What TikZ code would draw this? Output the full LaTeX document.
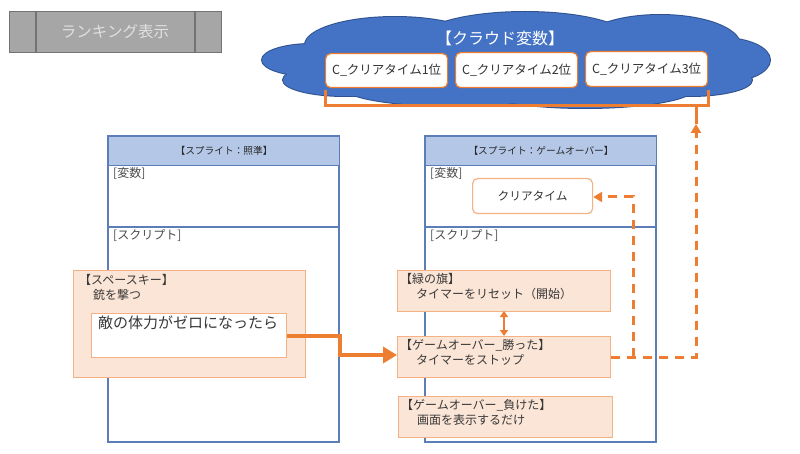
\documentclass[tikz,border=0pt]{standalone}
\usepackage{fontspec}
\setmainfont{Noto Sans CJK JP}
\usetikzlibrary{arrows.meta}
\definecolor{orng}{HTML}{ED7D31}
\definecolor{lorng}{HTML}{F4B183}
\definecolor{peach}{HTML}{FBE5D6}
\definecolor{cblue}{HTML}{4472C4}
\definecolor{dblue}{HTML}{2F528F}
\definecolor{hblue}{HTML}{B4C7E7}
\definecolor{fblue}{HTML}{5B7DB8}
\tikzset{
  fs/.style={font=\fontsize{#1}{#1}\selectfont},
  evtxt/.style={anchor=north west, inner sep=0pt, align=left, text=black!78, font=\fontsize{12}{15}\selectfont},
  frame/.style={draw=fblue, line width=1.1pt},
  hdr/.style={draw=fblue, fill=hblue, line width=1.1pt},
  evbox/.style={draw=lorng, fill=peach, line width=1.3pt},
  varbox/.style={draw=orng, fill=white, rounded corners=5pt, line width=1.2pt},
  lbl/.style={anchor=north west, inner sep=0pt, text=black!70, fs=12},
  dasharrow/.style={draw=orng, line width=3pt, dash pattern=on 9pt off 7pt},
}
\begin{document}
\begin{tikzpicture}[x=1pt,y=-1pt]
\useasboundingbox (0,0) rectangle (800,454);
% ranking button
\node[draw=gray!90!black, fill=black!35, line width=1.2pt, minimum width=212pt, minimum height=41pt, inner sep=0pt, anchor=north west] (rank) at (9,11) {};
\draw[gray!90!black, line width=1.2pt] (36,11) -- (36,52) (195,11) -- (195,52);
\node[text=black!12, fs=15.5] (ranktxt) at (115,32) {ランキング表示};
% cloud
\def\cloudshapes{
  \path (395,45) ellipse (90 and 28);
  \path (525,40) ellipse (105 and 28);
  \path (660,45) ellipse (80 and 30);
  \path (722,60) ellipse (48 and 22);
  \path (312,60) ellipse (50 and 16);
  \path (345,80) ellipse (62 and 16);
  \path (455,88) ellipse (110 and 18);
  \path (585,88) ellipse (110 and 20);
  \path (690,80) ellipse (62 and 16);
  \path (520,62) ellipse (230 and 32);
}
\begin{scope}[every path/.style={draw=dblue, line width=2pt}]
\cloudshapes
\end{scope}
\begin{scope}[every path/.style={fill=cblue}]
\cloudshapes
\end{scope}
\node[text=white, fs=16] (cloudtitle) at (500,38) {【クラウド変数】};
\node[varbox, minimum width=122pt, minimum height=34pt, inner sep=0pt, anchor=north west, fs=12.5, text=black!80] (c1) at (325,53) {C\_クリアタイム1位};
\node[varbox, minimum width=122pt, minimum height=35pt, inner sep=0pt, anchor=north west, fs=12.5, text=black!80] (c2) at (455,52) {C\_クリアタイム2位};
\node[varbox, minimum width=122pt, minimum height=35pt, inner sep=0pt, anchor=north west, fs=12.5, text=black!80] (c3) at (585,51) {C\_クリアタイム3位};
% bracket
\coordinate (bl) at (325,90);
\coordinate (br) at (708,90);
\coordinate (bstem) at (696,106);
\coordinate (btip) at (696,124);
\draw[orng, line width=3pt] (bl) -- (325,106) -- (708,106) -- (br);
\draw[orng, line width=3pt] (bstem) -- (btip);
% left sprite frame
\draw[frame] (108,136) rectangle (339,442);
\node[hdr, minimum width=231pt, minimum height=29pt, inner sep=0pt, anchor=north west, fs=9.7, text=black!85] (lhdr) at (108,136) {【スプライト：照準】};
\draw[frame] (108,227) -- (339,227);
\node[lbl] (lvar) at (113,167) {[変数]};
\node[lbl] (lscr) at (113,229) {[スクリプト]};
% right sprite frame
\draw[frame] (425,136) rectangle (656,442);
\node[hdr, minimum width=231pt, minimum height=29pt, inner sep=0pt, anchor=north west, fs=9.7, text=black!85] (rhdr) at (425,136) {【スプライト：ゲームオーバー】};
\draw[frame] (425,227) -- (656,227);
\node[lbl] (rvar) at (430,167) {[変数]};
\node[lbl] (rscr) at (430,229) {[スクリプト]};
\node[varbox, draw=lorng, minimum width=120pt, minimum height=35pt, inner sep=0pt, anchor=north west, fs=11.7, text=black!80] (ct) at (472,178) {クリアタイム};
% space key box
\node[evbox, minimum width=232pt, minimum height=107pt, inner sep=0pt, anchor=north west] (space) at (73,270) {};
\node[evtxt] (spacetxt) at (79,274) {【スペースキー】\\\hspace*{14pt}銃を撃つ};
\node[draw=lorng, fill=white, line width=1.3pt, minimum width=195pt, minimum height=44pt, inner sep=0pt, anchor=north west] (enemy) at (91,313) {};
\node[anchor=north west, inner sep=0pt, fs=15, text=black!78] (enemytxt) at (98,316) {敵の体力がゼロになったら};
% right event boxes
\node[evbox, minimum width=213pt, minimum height=41pt, inner sep=0pt, anchor=north west] (flag) at (397,270) {};
\node[evtxt] (flagtxt) at (400,273) {【緑の旗】\\\hspace*{16pt}タイマーをリセット（開始）};
\node[evbox, minimum width=213pt, minimum height=41pt, inner sep=0pt, anchor=north west] (stop) at (397,336) {};
\node[evtxt] (stoptxt) at (400,339) {【ゲームオーバー\_勝った】\\\hspace*{16pt}タイマーをストップ};
\node[evbox, minimum width=214pt, minimum height=41pt, inner sep=0pt, anchor=north west] (lose) at (398,396) {};
\node[evtxt] (losetxt) at (401,399) {【ゲームオーバー\_負けた】\\\hspace*{16pt}画面を表示するだけ};
% connectors
\draw[orng, line width=4.5pt, -{Triangle[length=14pt,width=16pt]}] (enemy.east |- 0,336) -- (340,336) -- (340,355) -- (stop.west |- 0,355);
\draw[orng, line width=2.2pt, {Triangle[length=6pt,width=8pt]}-{Triangle[length=6pt,width=8pt]}] (504,311) -- (504,336);
\draw[dasharrow, -{Triangle[length=9pt,width=10pt]}] (stop.east |- 0,357) -- (696,357) -- (btip);
\draw[dasharrow, -{Triangle[length=9pt,width=10pt]}] (633,357) -- (633,197) -- (ct.east |- 0,197);
\end{tikzpicture}
\end{document}
